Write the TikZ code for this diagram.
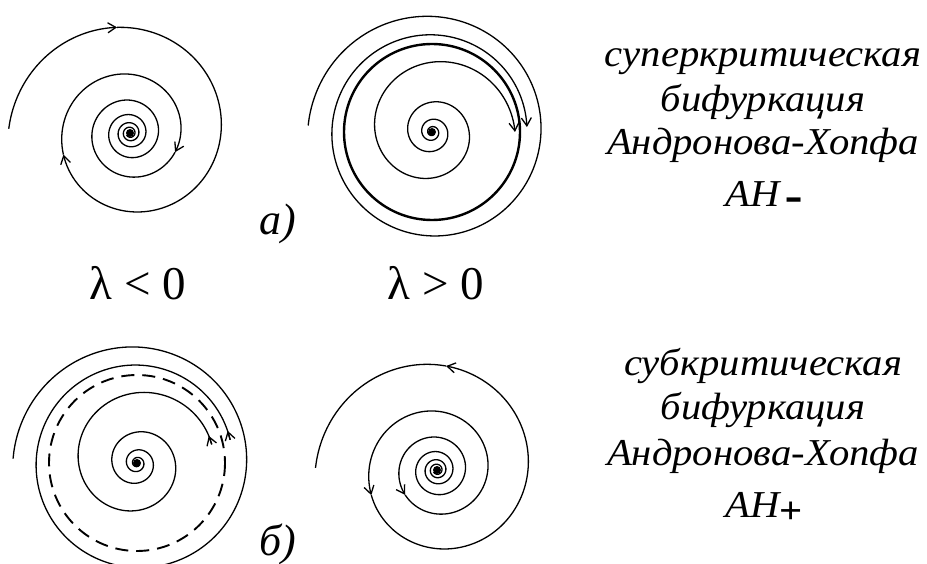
\documentclass[tikz,border=0pt]{standalone}
\usepackage{fontspec}
\setmainfont{Liberation Serif}
\usetikzlibrary{arrows.meta}
\begin{document}
\begin{tikzpicture}[x=1pt,y=-1pt,
  traj/.style={line width=1.3pt, line join=round},
  ar/.style={traj, -{Straight Barb[length=8pt,width=10pt,line width=1.3pt]}},
  cycle/.style={line width=2.4pt},
  ucycle/.style={line width=1.9pt, dash pattern=on 13pt off 8pt},
  dotc/.style={fill=black},
  lam/.style={font=\fontsize{47}{50}\selectfont, anchor=base, inner sep=0pt},
  plab/.style={font=\fontsize{44}{48}\selectfont\itshape, anchor=base, inner sep=0pt},
  txt/.style={font=\fontsize{38}{42}\selectfont\itshape, anchor=base, inner sep=0pt, xscale=1.07}]
\useasboundingbox (0,0) rectangle (927,564);
\def\rA{(68*exp(0.00161*(\t+180)))}
\def\rI#1{(88*exp(-0.0024*\t)-#1*exp(-min(\t,600)/60))}
% ---------- panel a, lambda<0 ----------
\begin{scope}[shift={(130,133)}]
  \coordinate (c1) at (0,0);
  \draw[ar] plot[domain=178:97, samples=30, variable=\t, smooth] ({\rA*cos(\t)},{-\rA*sin(\t)});
  \draw[ar] plot[domain=97:-162, samples=80, variable=\t, smooth] ({\rA*cos(\t)},{-\rA*sin(\t)});
  \draw[ar] plot[domain=-162:-383, samples=70, variable=\t, smooth] ({\rA*cos(\t)},{-\rA*sin(\t)});
  \draw[traj] plot[domain=-383:-1950, samples=400, variable=\t, smooth] ({\rA*cos(\t)},{-\rA*sin(\t)});
  \fill[dotc] (c1) circle (4);
\end{scope}
% ---------- panel a, lambda>0 ----------
\begin{scope}[shift={(432,132)}]
  \coordinate (c2) at (0,0);
  \draw[cycle] (c2) circle (88);
  \draw[ar] plot[domain=177:-357, samples=160, variable=\t, smooth]
     ({(88+36*exp(-0.00305*(177-\t)))*cos(\t)},{-(88+36*exp(-0.00305*(177-\t)))*sin(\t)});
  \draw[ar] plot[domain=1400:0, samples=400, variable=\t, smooth]
     ({\rI{5}*cos(\t)},{-\rI{5}*sin(\t)});
  \fill[dotc] (c2) circle (4);
\end{scope}
% ---------- panel b, lambda<0 ----------
\begin{scope}[shift={(137,463)}]
  \coordinate (c3) at (0,0);
  \draw[ucycle] (c3) circle (88);
  \draw[traj] plot[domain=-346:178, samples=160, variable=\t, smooth]
     ({(88+36*exp(-0.00287*(178-\t)))*cos(\t)},{-(88+36*exp(-0.00287*(178-\t)))*sin(\t)});
  \draw[traj] plot[domain=0:1400, samples=400, variable=\t, smooth]
     ({\rI{11}*cos(\t+14)},{-\rI{11}*sin(\t+14)});
  \coordinate (e3o) at ({96*cos(-346)},{-96*sin(-346)});
  \coordinate (a3o) at ({96.2*cos(-340.5)},{-96.2*sin(-340.5)});
  \coordinate (e3i) at ({77*cos(14)},{-77*sin(14)});
  \coordinate (a3i) at ({76.7*cos(20.7)},{-76.7*sin(20.7)});
  \draw[ar] (e3o) -- (a3o);
  \draw[ar] (e3i) -- (a3i);
  \fill[dotc] (c3) circle (4);
\end{scope}
% ---------- panel b, lambda>0 ----------
\begin{scope}[shift={(437,470)}]
  \coordinate (c4) at (0,0);
  \draw[ar] plot[domain=-1950:-502, samples=400, variable=\t, smooth] ({\rA*cos(\t)},{-\rA*sin(\t)});
  \draw[ar] plot[domain=-502:-159, samples=100, variable=\t, smooth] ({\rA*cos(\t)},{-\rA*sin(\t)});
  \draw[ar] plot[domain=-159:85, samples=80, variable=\t, smooth] ({\rA*cos(\t)},{-\rA*sin(\t)});
  \draw[traj] plot[domain=85:179, samples=30, variable=\t, smooth] ({\rA*cos(\t)},{-\rA*sin(\t)});
  \fill[dotc] (c4) circle (4);
\end{scope}
% ---------- labels ----------
\node[lam] (lneg) at (138,300) {λ < 0};
\node[lam] (lpos) at (436,300) {λ > 0};
\node[plab] (pa) at (278,235) {а)};
\node[plab] (pb) at (278,555) {б)};
\node[txt] (s1) at (763,67) {суперкритическая};
\node[txt] (s2) at (763,112) {бифуркация};
\node[txt] (s3) at (763,155) {Андронова-Хопфа};
\node[txt] (s4) at (764,207) {АН{\upshape\bfseries\fontsize{28}{28}\selectfont\,\raisebox{-14pt}{\scalebox{1}[2.2]{−}}}};
\node[txt] (u1) at (763,375) {субкритическая};
\node[txt] (u2) at (763,419) {бифуркация};
\node[txt] (u3) at (763,465) {Андронова-Хопфа};
\node[txt] (u4) at (764,517) {АН{\upshape\bfseries\fontsize{38}{38}\selectfont\raisebox{-6pt}{+}}};
\end{tikzpicture}
\end{document}
